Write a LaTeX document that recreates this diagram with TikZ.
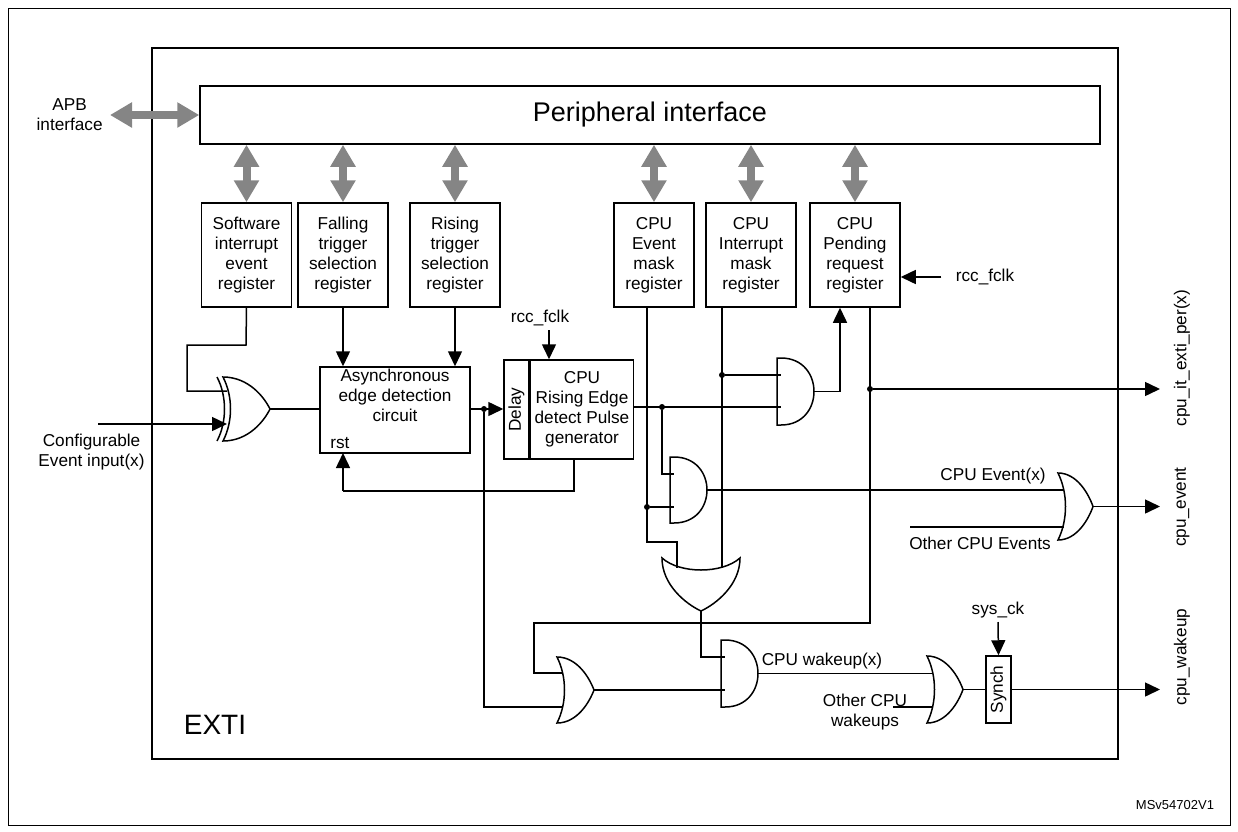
\documentclass[tikz,border=0pt]{standalone}
\usepackage{fontspec}
\setmainfont{Liberation Sans}
\usetikzlibrary{arrows.meta}
\definecolor{busgray}{HTML}{858585}

% AND gate: name, left, top, bottom
\newcommand{\gateand}[4]{%
  \draw[gate] (#2,#3) -- ({#2+4},#3) .. controls ({#2+48},#3) and ({#2+48},#4) .. ({#2+4},#4) -- (#2,#4) -- cycle;
  \coordinate (#1) at ({#2+37},{(#3+#4)/2});}
% OR gate: name, left, top, bottom, width
\newcommand{\gateor}[5]{%
  \pgfmathsetmacro{\gmid}{(#3+#4)/2}\pgfmathsetmacro{\gh}{#4-#3}%
  \draw[gate] (#2,#3) .. controls ({#2+10},{#3+0.3*\gh}) and ({#2+10},{#4-0.3*\gh}) .. (#2,#4)
    .. controls ({#2+0.55*#5},#4) and ({#2+0.88*#5},{\gmid+0.18*\gh}) .. ({#2+#5},\gmid)
    .. controls ({#2+0.88*#5},{\gmid-0.18*\gh}) and ({#2+0.55*#5},#3) .. (#2,#3) -- cycle;
  \coordinate (#1) at ({#2+#5},\gmid);}

\begin{document}
\begin{tikzpicture}[x=0.5pt,y=-0.5pt,
    every node/.style={align=center, inner sep=0pt, font=\fontsize{8.6}{10}\selectfont},
    reg/.style={draw, line width=0.75pt, minimum width=45pt, minimum height=52pt},
    box/.style={draw, line width=0.75pt},
    gate/.style={line width=0.75pt},
    wire/.style={line width=0.75pt},
    arrow/.style={wire, -{Triangle[length=7.5pt,width=7pt]}},
    bus/.style={draw=busgray, line width=4pt, {Triangle[length=11pt,width=12pt]}-{Triangle[length=11pt,width=12pt]}},
    dot/.style={circle, fill, minimum size=3pt},
    outlabel/.style={rotate=90}
]
\useasboundingbox (0,0) rectangle (1238,831);

% frames
\draw[line width=0.5pt] (8,8) rectangle (1230,825);
\draw[line width=0.75pt] (152,48) rectangle (1118,759);
\node[font=\fontsize{14}{16}\selectfont] (exti) at (215,725) {EXTI};
\node[font=\fontsize{6.5}{8}\selectfont] (ver) at (1175,805) {MSv54702V1};

% peripheral interface and registers
\node[box, minimum width=450pt, minimum height=29pt, font=\fontsize{13.5}{16}\selectfont] (periph) at (650,115) {Peripheral interface};
\node[anchor=east] (apb) at (103,115) {APB\\interface};
\coordinate (apbend) at (110,115);
\draw[bus] (apbend) -- (periph.west);

\node[reg] (swier) at (246.5,255) {Software\\interrupt\\event\\register};
\node[reg] (ftsr) at (343,255) {Falling\\trigger\\selection\\register};
\node[reg] (rtsr) at (455,255) {Rising\\trigger\\selection\\register};
\node[reg, minimum width=40pt] (emr) at (654,255) {CPU\\Event\\mask\\register};
\node[reg] (imr) at (751,255) {CPU\\Interrupt\\mask\\register};
\node[reg] (pr) at (855,255) {CPU\\Pending\\request\\register};
\foreach \r in {swier,ftsr,rtsr,emr,imr,pr}
  \draw[bus] (\r.north |- periph.south) -- (\r.north);

\node (fclka) at (985,277) {rcc\_fclk};
\draw[arrow] (fclka.west) ++(-14,0) -- (pr.east |- fclka);

% edge detection and pulse generator
\node[box, minimum width=75pt, minimum height=43pt] (async) at (395,410) {};
\node (asynctxt) at (395,395) {Asynchronous\\edge detection\\circuit};
\node[anchor=west] (rst) at (330,443) {rst};
\node[box, minimum width=12.5pt, minimum height=49.5pt] (delay) at (516.5,409.5) {};
\node[rotate=90] (delaytxt) at (delay) {Delay};
\node[box, minimum width=51.5pt, minimum height=49.5pt, anchor=west] (pulse) at (delay.east) {CPU\\Rising Edge\\detect Pulse\\generator};
\node (fclkb) at (540,318) {rcc\_fclk};
\coordinate (fclkbtop) at (549,330);
\draw[arrow] (fclkbtop) -- (fclkbtop |- pulse.north);

% gates
\draw[gate] (217,377) .. controls (227,396) and (227,422) .. (217,441);
\gateor{xor}{223}{377}{441}{47}
\gateand{and1}{777}{358}{425}
\gateand{and2}{670}{457}{523}
\gateand{and3}{721}{640}{707}
\gateor{or4}{1058}{473}{540}{35}
\gateor{or5}{557}{657}{723}{37}
\gateor{or6}{927}{656}{723}{36}
\draw[gate] (662,558) .. controls (680,574) and (722,574) .. (740,558)
  .. controls (740,585) and (716,604) .. (701,611) .. controls (686,604) and (662,585) .. (662,558) -- cycle;
\coordinate (or3) at (701,611);
\node[box, minimum width=12.5pt, minimum height=33.5pt] (synch) at (998.5,689.5) {};
\node[rotate=90] (synchtxt) at (synch) {Synch};

% inputs into the edge detector
\draw[wire] (swier.south) -- (246,345) -- (187,345) -- (187,391) -- (227,391);
\node[anchor=east] (cfg) at (145,452) {Configurable\\Event input(x)};
\coordinate (cfgin) at (98,424);
\draw[arrow] (cfgin) -- (227,424);
\draw[wire] (xor) -- (async.west |- xor);
\draw[arrow] (ftsr.south) -- (ftsr.south |- async.north);
\draw[arrow] (rtsr.south) -- (rtsr.south |- async.north);
\draw[arrow] (async.east |- 0,409) -- (delay.west |- 0,409);
\node[dot] (d1) at (484,409) {};
\draw[wire] (pulse.south -| 574,0) -- (574,491) -- (343,491);
\draw[arrow] (343,491) -- (343,453);

% mask and pending logic
\draw[wire] (pulse.east |- 0,407) -- (781,407);
\node[dot] (d2) at (662,407) {};
\draw[wire] (d2) -- (662,474) -- (674,474);
\draw[wire] (emr.south -| 647,0) -- (647,542) -- (677,542) -- (677,568);
\node[dot] (d3) at (647,507) {};
\draw[wire] (d3) -- (674,507);
\draw[wire] (imr.south -| 722,0) -- (722,568);
\node[dot] (d4) at (722,375) {};
\draw[wire] (d4) -- (781,375);
\draw[wire] (and1) -- (840,391.5);
\draw[arrow] (840,391.5) -- (pr.south -| 840,0);
\draw[wire] (pr.south -| 870,0) -- (870,623) -- (534,623) -- (534,673) -- (563,673);
\node[dot] (d5) at (870,389) {};
\coordinate (itout) at (1160,389);
\draw[arrow] (d5) -- (itout);

% event output
\draw[wire] (and2) -- (1064,490);
\node[anchor=south east] (evx) at (1046,484) {CPU Event(x)};
\coordinate (othev) at (910,527);
\draw[wire] (othev) -- (1064,527);
\node (othevtxt) at (980,543) {Other CPU Events};
\coordinate (evout) at (1160,506.5);
\draw[arrow] (or4) -- (evout);

% wakeup output
\draw[wire] (or3) -- (701,657) -- (725,657);
\draw[wire] (d1) -- (484,707) -- (563,707);
\draw[wire] (or5) -- (725,690);
\draw[wire] (and3) -- (933,673.5);
\node (wkx) at (822,661) {CPU wakeup(x)};
\coordinate (othwk) at (893,707);
\draw[wire] (othwk) -- (933,707);
\node (othwktxt) at (865,712) {Other CPU\\wakeups};
\draw[wire] (or6) -- (synch.west |- or6);
\coordinate (wkout) at (1160,689.5);
\draw[arrow] (synch.east) -- (wkout);
\node (sysck) at (998,610) {sys\_ck};
\coordinate (sysckt) at (998,622);
\draw[arrow] (sysckt) -- (synch.north);

% outputs
\node[outlabel] (lit) at (1182,358) {cpu\_it\_exti\_per(x)};
\node[outlabel] (lev) at (1182,507) {cpu\_event};
\node[outlabel] (lwk) at (1182,657) {cpu\_wakeup};
\end{tikzpicture}
\end{document}
